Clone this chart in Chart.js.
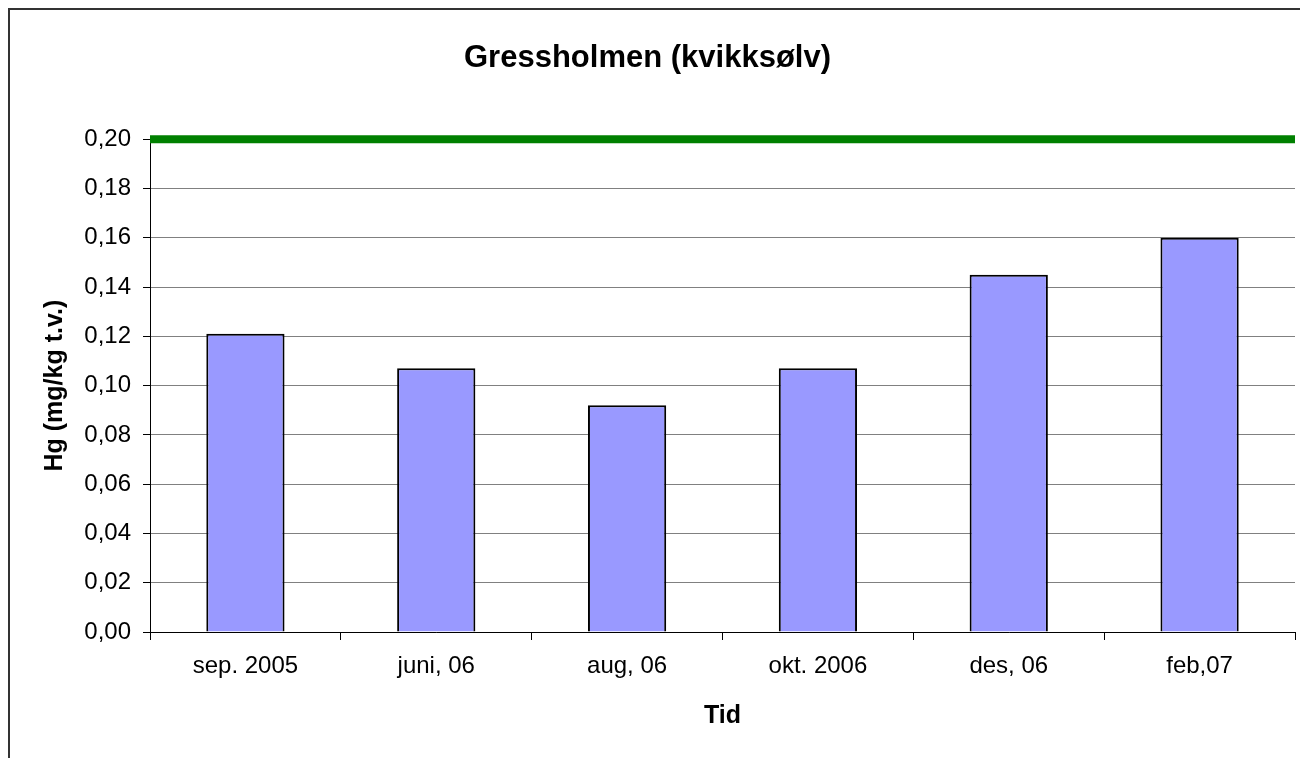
<!DOCTYPE html>
<html>
<head>
<meta charset="utf-8">
<script src="https://cdn.jsdelivr.net/npm/chart.js@4"></script>
<style>
  html, body { margin: 0; padding: 0; background: #fff; }
  #wrap { position: relative; width: 1300px; height: 758px; overflow: hidden; }
  #frame { position: absolute; left: 8px; top: 8px; width: 1400px; height: 900px;
           border-left: 2px solid #333; border-top: 2px solid #333; }
  canvas { position: absolute; left: 0; top: 0; }
</style>
</head>
<body>
<div id="wrap">
  <div id="frame"></div>
  <canvas id="c" width="1300" height="758"></canvas>
</div>
<script>
const chartTitle = 'Gressholmen (kvikksølv)';
const yTitle = 'Hg (mg/kg t.v.)';
const xTitle = 'Tid';
const categories = ['sep. 2005', 'juni, 06', 'aug, 06', 'okt. 2006', 'des, 06', 'feb,07'];
const hgValues = [0.121, 0.107, 0.092, 0.107, 0.145, 0.160];
const limitValue = [0.20, 0.20];
const yTicks = [0, 0.02, 0.04, 0.06, 0.08, 0.10, 0.12, 0.14, 0.16, 0.18, 0.20];

const FONT = "'Liberation Sans', Arial, sans-serif";

new Chart(document.getElementById('c'), {
  data: {
    labels: categories,
    datasets: [
      {
        type: 'bar',
        label: 'Hg',
        data: hgValues,
        backgroundColor: '#9999FF',
        borderColor: '#000000',
        borderWidth: 2,
        barPercentage: 0.41,
        categoryPercentage: 1.0,
        grouped: false,
        xAxisID: 'x',
        order: 2
      },
      {
        type: 'line',
        label: 'Grense',
        data: limitValue.map((v, i) => ({ x: i, y: v })),
        borderColor: '#008000',
        borderWidth: 8,
        pointRadius: 0,
        fill: false,
        clip: false,
        xAxisID: 'x2',
        order: 1
      }
    ]
  },
  options: {
    responsive: false,
    animation: false,
    layout: { padding: { left: 0, right: 5, top: 0, bottom: 0 } },
    plugins: {
      legend: { display: false },
      tooltip: { enabled: false },
      title: {
        display: true,
        text: chartTitle,
        color: '#000',
        font: { family: FONT, size: 31, weight: 'bold', lineHeight: 1.2 },
        padding: { top: 40, bottom: 62 }
      }
    },
    scales: {
      x: {
        type: 'category',
        offset: true,
        grid: {
          offset: true,
          drawOnChartArea: false,
          drawTicks: true,
          tickLength: 8,
          tickColor: '#000',
          color: '#000'
        },
        border: { display: true, color: '#000', width: 1 },
        ticks: {
          color: '#000',
          font: { family: FONT, size: 24 },
          padding: 12,
          maxRotation: 0
        },
        title: {
          display: true,
          text: xTitle,
          color: '#000',
          font: { family: FONT, size: 25, weight: 'bold', lineHeight: 1.2 },
          padding: { top: 0, bottom: 27 }
        },
        afterFit: (s) => { s.height = 126; }
      },
      x2: {
        type: 'linear',
        display: false,
        min: 0,
        max: 1
      },
      y: {
        type: 'linear',
        min: 0,
        max: 0.2,
        afterBuildTicks: (s) => { s.ticks = yTicks.map(v => ({ value: v })); },
        grid: {
          color: '#808080',
          lineWidth: 1,
          drawTicks: true,
          tickLength: 7,
          tickColor: '#000'
        },
        border: { display: true, color: '#000', width: 1 },
        ticks: {
          color: '#000',
          font: { family: FONT, size: 24 },
          padding: 12,
          callback: (v) => Number(v).toFixed(2).replace('.', ',')
        },
        title: {
          display: true,
          text: yTitle,
          color: '#000',
          font: { family: FONT, size: 25, weight: 'bold', lineHeight: 1.2 },
          padding: { top: 40, bottom: 0 }
        },
        afterFit: (s) => { s.width = 150; }
      }
    }
  }
});
</script>
</body>
</html>
